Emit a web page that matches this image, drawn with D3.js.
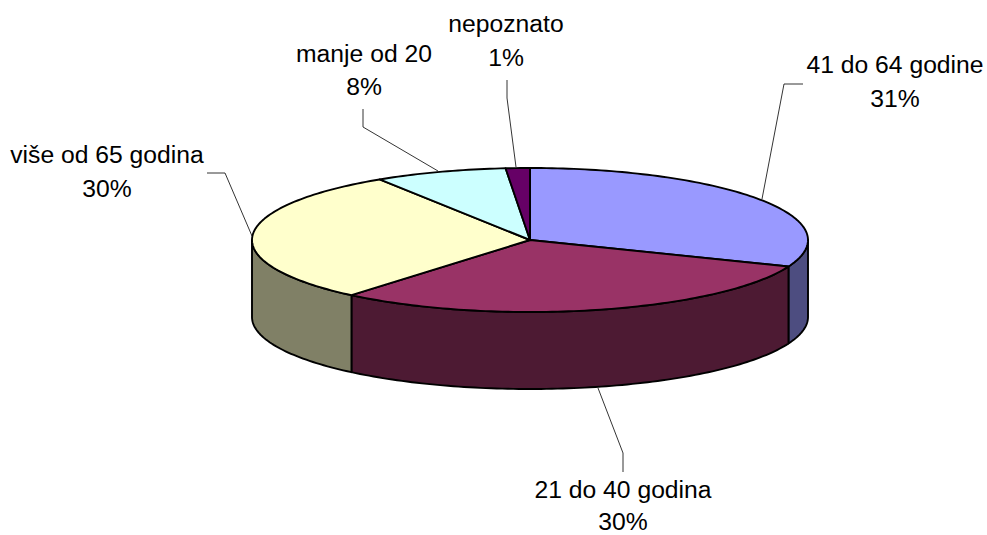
<!DOCTYPE html>
<html><head><meta charset="utf-8">
<script src="https://cdn.jsdelivr.net/npm/d3@7"></script>
<style>html,body{margin:0;background:#fff}svg{display:block}text{font-family:"Liberation Sans",Arial,sans-serif;font-size:24.7px;fill:#000}</style>
</head><body><svg id="c" width="987" height="535"></svg>
<script>
const categories=["41 do 64 godine","21 do 40 godina","više od 65 godina","manje od 20","nepoznato"];
const values=[31,30.1,29.8,7.7,1.4];
const percentLabels=["31%","30%","30%","8%","1%"];
const topColors=["#9999ff","#993366","#ffffcc","#ccffff","#660066"];
const sideColors=["#4d4d80","#4d1a33","#808066","#668080","#330033"];
const labelCenters=[[895,73],[623,498],[107,163],[364,62],[506,32]];
const percentBaselines=[107,529.5,197,95,66];
const leaders=[[[803,84],[784,84],[762,199]],[[623,472],[623,453],[598,388]],[[207,173],[225,173],[252,236]],[[363,109],[363,127],[438,171]],[[507,80],[507,98],[516,167]]];
const cx=530,cy=240,rx=278,ry=72,depth=77;
const svg=d3.select("#c");
const pie=d3.pie().sort(null).value(d=>d)(values);
const px=d3.scaleLinear().domain([-1,1]).range([cx-rx,cx+rx]);
const py=d3.scaleLinear().domain([-1,1]).range([cy-ry,cy+ry]);
const line=d3.line();
const pt=(a,dz=0)=>[px(Math.sin(a)),py(-Math.cos(a))+dz];
const arcPts=(a0,a1,dz=0)=>{const n=Math.max(2,Math.ceil((a1-a0)/0.02));return d3.range(n+1).map(i=>pt(a0+(a1-a0)*i/n,dz));};
const sw=1.9;
pie.forEach((d,i)=>{
  const a0=Math.max(d.startAngle,Math.PI/2),a1=Math.min(d.endAngle,3*Math.PI/2);
  if(a1<=a0)return;
  const p=[...arcPts(a0,a1),...arcPts(a0,a1,depth).reverse()];
  svg.append("path").attr("d",line(p)+"Z").attr("fill",sideColors[i]).attr("stroke","#000").attr("stroke-width",sw).attr("stroke-linejoin","round");
});
pie.forEach((d,i)=>{
  const p=[[cx,cy],...arcPts(d.startAngle,d.endAngle)];
  svg.append("path").attr("d",line(p)+"Z").attr("fill",topColors[i]).attr("stroke","#000").attr("stroke-width",sw).attr("stroke-linejoin","round");
});
leaders.forEach(l=>svg.append("path").attr("d",line(l)).attr("fill","none").attr("stroke","#000").attr("stroke-width",0.8));
categories.forEach((c,i)=>{
  const [x,y]=labelCenters[i];
  svg.append("text").attr("x",x).attr("y",y).attr("text-anchor","middle").text(c);
  svg.append("text").attr("x",x).attr("y",percentBaselines[i]).attr("text-anchor","middle").text(percentLabels[i]);
});
</script></body></html>
